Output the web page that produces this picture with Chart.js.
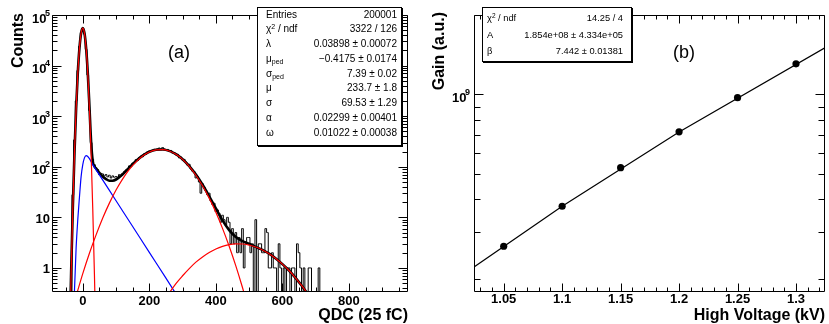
<!DOCTYPE html>
<html>
<head>
<meta charset="utf-8">
<script src="https://cdn.jsdelivr.net/npm/chart.js@4.4.1/dist/chart.umd.min.js"></script>
<style>
  html, body { margin: 0; padding: 0; background: #fff; }
  #wrap { position: relative; width: 829px; height: 324px; overflow: hidden;
          font-family: "Liberation Sans", Arial, Helvetica, sans-serif; }
  canvas { position: absolute; top: 0; }
  #qdcChart { left: 0; }
  #gainChart { left: 415px; }
  .stats { position: absolute; background: #fff; border: 1px solid #000;
           box-shadow: 1px 1px 0 #000; box-sizing: border-box; }
  .stats .row { position: absolute; left: 0; right: 0; white-space: nowrap; }
  .stats .lab { position: absolute; }
  .stats .val { position: absolute; }
  .stats sub { font-size: 0.7em; vertical-align: -0.35em; line-height: 0; }
  .stats sup { font-size: 0.7em; vertical-align: 0.45em; line-height: 0; }
  .tag { position: absolute; font-size: 18px; line-height: 18px; }
</style>
</head>
<body>
<div id="wrap">
  <canvas id="qdcChart" width="415" height="324" style="width:415px;height:324px"></canvas>
  <canvas id="gainChart" width="414" height="324" style="width:414px;height:324px"></canvas>
  <div id="statsA" class="stats" style="left:257px;top:7px;width:145px;height:139px;font-size:10px"></div>
  <div id="statsB" class="stats" style="left:482px;top:7px;width:150px;height:55px;font-size:9.3px"></div>
  <div class="tag" style="left:168px;top:43px">(a)</div>
  <div class="tag" style="left:673px;top:43px">(b)</div>
</div>
<script>
// ---------- panel (a): QDC spectrum ----------
// histogram: bin centres start at -90, 5 QDC per bin (214 bins)
const qdcBinStart = -90;
const qdcBinWidth = 5;
const qdcCounts = [
  0, 0, 0, 0, 0, 0, 0, 0, 0, 0,
  0, 0, 28, 340, 2000, 8000, 24000, 45000, 55000, 42000,
  21000, 6500, 1300, 300, 140, 110, 95, 88, 70, 74,
  72, 66, 70, 63, 68, 60, 66, 62, 64, 62,
  70, 66, 74, 80, 86, 88, 104, 100, 118, 120,
  138, 133, 152, 162, 158, 180, 176, 198, 205, 200,
  214, 222, 212, 228, 235, 218, 240, 226, 212, 220,
  200, 210, 186, 190, 172, 176, 150, 156, 136, 140,
  124, 108, 112, 90, 82, 80, 60, 64, 50, 30,
  46, 40, 34, 28, 30, 21, 18, 19, 13, 14,
  12, 8, 11, 9, 7, 10, 8, 3, 6, 3,
  5, 2, 4, 2, 6, 1, 3, 4, 4, 2,
  3, 0, 9, 0, 3, 3, 2, 2, 6, 5,
  1, 1, 2, 1, 1, 0, 3, 1, 0, 1,
  0, 1, 1, 0, 1, 1, 0, 3, 2, 1,
  0, 1, 0, 0, 1, 1, 0, 0, 0, 0,
  1, 0, 0, 0, 0, 0, 0, 0, 0, 0,
  0, 0, 0, 0, 0, 0, 0, 0, 0, 0,
  0, 0, 0, 0, 0, 0, 0, 0, 0, 0,
  0, 0, 0, 0, 0, 0, 0, 0, 0, 0,
  0, 0, 0, 0, 0, 0, 0, 0, 0, 0,
  0, 0, 0, 0
];

// fit components
const pedX = [-40, -35, -30, -25, -20, -15, -10, -5, 0, 5, 10, 15, 20, 25, 30, 35, 40];
const pedY = [0.025, 0.76, 14.8, 183, 1425, 7040, 22050, 43800, 55000, 43800, 22050, 7040, 1425, 183, 14.8, 0.76, 0.025];

const bgX = [-30, -25, -20, -15, -10, -5, 0, 5, 10, 15, 20, 30, 50, 100, 150, 200, 250, 300];
const bgY = [0.03, 0.35, 2.5, 9, 25, 64, 110, 150, 166, 160, 145, 110, 69, 21.3, 6.6, 2.03, 0.63, 0.19];

const pe1X = [-30, -20, 0, 20, 40, 60, 80, 100, 120, 140, 160, 180, 200, 220, 240, 260, 280, 300, 320, 340, 360, 380, 400, 420, 440, 460, 480, 500];
const pe1Y = [0.17, 0.28, 0.77, 1.95, 4.5, 9.7, 19.1, 34.6, 57.7, 88.7, 125, 163, 196, 216, 219, 205, 176, 140, 102, 68, 42, 24, 12.6, 6.05, 2.69, 1.1, 0.41, 0.14];

const pe2X = [240, 260, 280, 300, 320, 340, 360, 380, 400, 420, 440, 460, 480, 500, 520, 540, 560, 580, 600, 620, 640, 660, 680, 700];
const pe2Y = [0.2, 0.32, 0.49, 0.7, 0.97, 1.3, 1.65, 2.02, 2.37, 2.67, 2.89, 2.99, 2.97, 2.83, 2.59, 2.27, 1.91, 1.54, 1.19, 0.89, 0.63, 0.43, 0.28, 0.18];

const totalX = [-40, -35, -30, -25, -20, -15, -10, -5, 0, 5, 10, 15, 20, 25, 30, 35, 40, 45,
  50, 60, 70, 80, 90, 100,
  120, 140, 160, 180, 200, 220, 240, 260, 280, 300, 320, 340, 360, 380, 400, 420, 440, 460, 480, 500, 520, 540, 560, 580, 600, 620, 640, 660, 680, 700];
const totalY = [0.03, 0.8, 15, 183, 1428, 7049, 22075, 43864, 55110, 43950, 22218, 7202, 1572, 313, 128, 102, 92, 83,
  76, 64, 57, 53, 53, 56,
  71, 97, 130, 166, 198, 217, 220, 206, 177, 141, 103, 70, 44, 26, 15, 8.7, 5.6, 4.1, 3.4, 3.0, 2.6, 2.27, 1.91, 1.54, 1.19, 0.89, 0.63, 0.43, 0.28, 0.18];

const qdcMajor = [0, 200, 400, 600, 800];
const qdcMinor = [-50, 50, 100, 150, 250, 300, 350, 450, 500, 550, 650, 700, 750, 850, 900, 950];
const countDecades = [1, 10, 100, 1000, 10000, 100000];
const countLabels = ['1', '10', '10^2', '10^3', '10^4', '10^5'];

const statsA = [
  ['Entries', '200001'],
  ['&chi;<sup>2</sup> / ndf', '3322 / 126'],
  ['&lambda;', '0.03898 &plusmn; 0.00072'],
  ['&mu;<sub>ped</sub>', '&minus;0.4175 &plusmn; 0.0174'],
  ['&sigma;<sub>ped</sub>', '7.39 &plusmn; 0.02'],
  ['&mu;', '233.7 &plusmn; 1.8'],
  ['&sigma;', '69.53 &plusmn; 1.29'],
  ['&alpha;', '0.02299 &plusmn; 0.00401'],
  ['&omega;', '0.01022 &plusmn; 0.00038']
];

// ---------- panel (b): gain vs high voltage ----------
const hvKV = [1.05, 1.1, 1.15, 1.2, 1.25, 1.3];
const gain = [2.66e8, 3.77e8, 5.28e8, 7.22e8, 9.72e8, 1.306e9];
const fitKV = [1.02, 1.1, 1.2, 1.33];
const fitGain = [2.15e8, 3.77e8, 7.2e8, 1.55e9];

const hvMajor = [1.05, 1.1, 1.15, 1.2, 1.25, 1.3];
const hvMajorLabels = ['1.05', '1.1', '1.15', '1.2', '1.25', '1.3'];
const hvMinor = [1.03, 1.04, 1.06, 1.07, 1.08, 1.09, 1.11, 1.12, 1.13, 1.14, 1.16, 1.17, 1.18, 1.19,
  1.21, 1.22, 1.23, 1.24, 1.26, 1.27, 1.28, 1.29, 1.31, 1.32];
const gainDecades = [1e9];
const gainLabels = ['10^9'];

const statsB = [
  ['&chi;<sup>2</sup> / ndf', '14.25 / 4'],
  ['A', '1.854e+08 &plusmn; 4.334e+05'],
  ['&beta;', '7.442 &plusmn; 0.01381']
];

const FONT = '"Liberation Sans", Arial, Helvetica, sans-serif';

function pts(xs, ys) {
  return xs.map((x, i) => ({ x: x, y: ys[i] }));
}

// log-axis minor ticks 2..9 x decade inside [min,max]
function logMinor(min, max) {
  const out = [];
  for (let e = Math.floor(Math.log10(min)); e <= Math.ceil(Math.log10(max)); e++) {
    for (let m = 2; m <= 9; m++) {
      const v = m * Math.pow(10, e);
      if (v >= min && v <= max) out.push(v);
    }
  }
  return out;
}

// ROOT-like frame: ticks inside on all four sides, labels and titles
const rootFrame = {
  id: 'rootFrame',
  afterDatasetsDraw(chart, args, o) {
    const { ctx, chartArea: a } = chart;
    const xs = chart.scales.x, ys = chart.scales.y;
    const L = Math.floor(a.left) + 0.5, R = Math.ceil(a.right) - 0.5;
    const T = Math.floor(a.top) + 0.5, B = Math.floor(a.bottom) + 0.5;
    ctx.save();
    ctx.strokeStyle = '#000';
    ctx.lineWidth = 1;
    ctx.beginPath();
    ctx.rect(L, T, R - L, B - T);
    const xt = (list, len) => list.forEach(v => {
      const p = Math.round(xs.getPixelForValue(v)) + 0.5;
      ctx.moveTo(p, B); ctx.lineTo(p, B - len);
      ctx.moveTo(p, T); ctx.lineTo(p, T + len);
    });
    const yt = (list, len) => list.forEach(v => {
      const p = Math.round(ys.getPixelForValue(v)) + 0.5;
      if (p < T - 0.1 || p > B + 0.1) return;
      ctx.moveTo(L, p); ctx.lineTo(L + len, p);
      ctx.moveTo(R, p); ctx.lineTo(R - len, p);
    });
    xt(o.xMajor, 8); xt(o.xMinor, 4);
    yt(o.yMajor, 9); yt(o.yMinor, o.yMinorLen);
    ctx.stroke();

    ctx.fillStyle = '#000';
    ctx.font = 'bold 13px ' + FONT;
    ctx.textAlign = 'center';
    ctx.textBaseline = 'alphabetic';
    o.xMajor.forEach((v, i) => {
      ctx.fillText(o.xLabels[i], xs.getPixelForValue(v), o.xLabelBase);
    });
    o.yMajor.forEach((v, i) => {
      const p = ys.getPixelForValue(v);
      const parts = o.yLabels[i].split('^');
      ctx.textAlign = 'right';
      if (parts.length === 2) {
        ctx.font = 'bold 9px ' + FONT;
        ctx.fillText(parts[1], o.yLabelRight + 3.5, p + 0.5);
        ctx.font = 'bold 13px ' + FONT;
        ctx.fillText(parts[0], o.yLabelRight, p + 7.5);
      } else {
        ctx.font = 'bold 13px ' + FONT;
        ctx.fillText(parts[0], o.yLabelRight + 3.5, p + 5.5);
      }
    });

    ctx.font = 'bold 16px ' + FONT;
    ctx.textAlign = 'right';
    ctx.fillText(o.xTitle, a.right, o.xTitleBase);
    ctx.translate(o.yTitleX, o.yTitleTop);
    ctx.rotate(-Math.PI / 2);
    ctx.textBaseline = 'middle';
    ctx.fillText(o.yTitle, 0, 0);
    ctx.restore();
  }
};

function fitLine(data, color, width) {
  return {
    data: data, borderColor: color, borderWidth: width, pointRadius: 0,
    cubicInterpolationMode: 'monotone', fill: false
  };
}

const histData = qdcCounts.map((c, i) => ({
  x: qdcBinStart + i * qdcBinWidth,
  y: c > 0 ? c : 1e-3   // empty bins fall below the frame
}));

new Chart(document.getElementById('qdcChart'), {
  type: 'line',
  data: {
    datasets: [
      fitLine(pts(pedX, pedY), '#ff0000', 1.2),
      fitLine(pts(pe1X, pe1Y), '#ff0000', 1.2),
      fitLine(pts(pe2X, pe2Y), '#ff0000', 1.2),
      fitLine(pts(bgX, bgY), '#0000ff', 1.2),
      fitLine(pts(totalX, totalY), '#000000', 2.6),
      { data: histData, borderColor: '#000', borderWidth: 1, pointRadius: 0, stepped: 'middle', fill: false }
    ]
  },
  options: {
    responsive: false,
    animation: false,
    events: [],
    layout: { padding: { left: 52, right: 7, top: 15, bottom: 33 } },
    scales: {
      x: { type: 'linear', min: -92.5, max: 977.5, display: false },
      y: { type: 'logarithmic', min: 0.35, max: 1e5, display: false }
    },
    plugins: {
      legend: { display: false },
      tooltip: { enabled: false },
      rootFrame: {
        xMajor: qdcMajor, xMinor: qdcMinor, xLabels: qdcMajor.map(String), xLabelBase: 304.5,
        yMajor: countDecades, yMinor: logMinor(0.35, 1e5), yMinorLen: 5,
        yLabels: countLabels, yLabelRight: 46.5,
        xTitle: 'QDC (25 fC)', xTitleBase: 320,
        yTitle: 'Counts', yTitleX: 18.5, yTitleTop: 13
      }
    }
  },
  plugins: [rootFrame]
});

new Chart(document.getElementById('gainChart'), {
  type: 'line',
  data: {
    datasets: [
      { data: pts(hvKV, gain), showLine: false, pointRadius: 3.6, pointBackgroundColor: '#000',
        pointBorderColor: '#000', pointBorderWidth: 0 },
      { data: pts(fitKV, fitGain), borderColor: '#000', borderWidth: 1.2, pointRadius: 0, fill: false }
    ]
  },
  options: {
    responsive: false,
    animation: false,
    events: [],
    layout: { padding: { left: 59, right: 1, top: 15, bottom: 33 } },
    scales: {
      x: { type: 'linear', min: 1.0246, max: 1.3248, display: false },
      y: { type: 'logarithmic', min: 1.8e8, max: 2.0e9, display: false }
    },
    plugins: {
      legend: { display: false },
      tooltip: { enabled: false },
      rootFrame: {
        xMajor: hvMajor, xMinor: hvMinor, xLabels: hvMajorLabels, xLabelBase: 302.5,
        yMajor: gainDecades, yMinor: logMinor(1.8e8, 2.0e9), yMinorLen: 6,
        yLabels: gainLabels, yLabelRight: 51.5,
        xTitle: 'High Voltage (kV)', xTitleBase: 320,
        yTitle: 'Gain (a.u.)', yTitleX: 25, yTitleTop: 12
      }
    }
  },
  plugins: [rootFrame]
});

// stats boxes
function fillStats(id, rows, firstCentre, step, padL, padR, rowH) {
  const box = document.getElementById(id);
  const boxTop = parseFloat(box.style.top) + 1;
  box.innerHTML = rows.map((r, i) => {
    const top = firstCentre + i * step - boxTop - rowH / 2;
    return '<div class="row" style="top:' + top + 'px;height:' + rowH + 'px;line-height:' + rowH + 'px">' +
      '<span class="lab" style="left:' + padL + 'px">' + r[0] + '</span>' +
      '<span class="val" style="right:' + padR + 'px">' + r[1] + '</span></div>';
  }).join('');
}
fillStats('statsA', statsA, 14.5, 14.75, 8, 4, 14);
fillStats('statsB', statsB, 18.3, 16.2, 4, 8, 14);
</script>
</body>
</html>
